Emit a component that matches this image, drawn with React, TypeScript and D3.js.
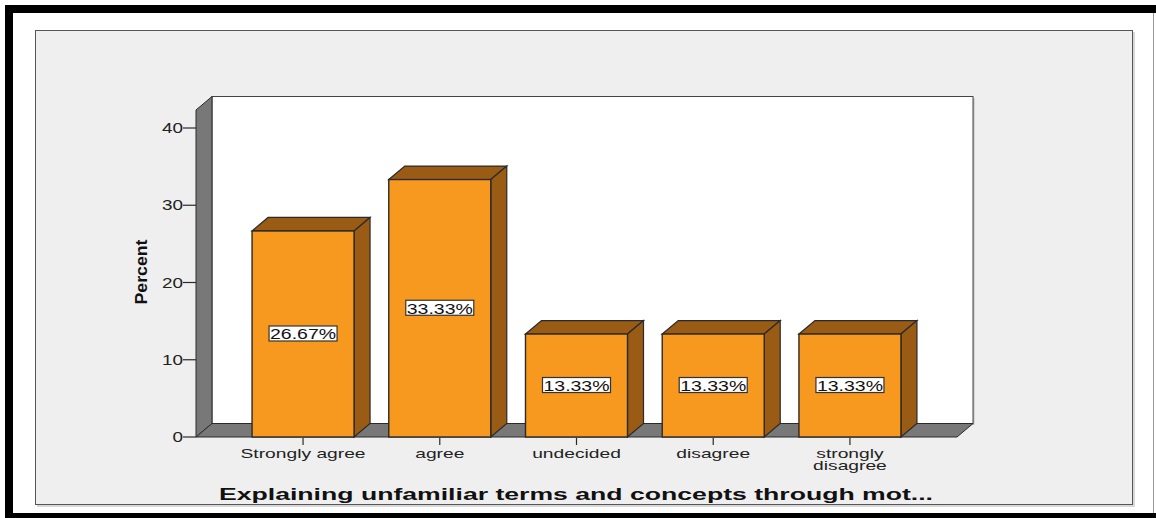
import React from "react";
import * as d3 from "d3";

const categories = ["Strongly agree", "agree", "undecided", "disagree", "strongly\ndisagree"];
const percents = [26.67, 33.33, 13.33, 13.33, 13.33];
const yTicks = [0, 10, 20, 30, 40];
const xTitle = "Explaining unfamiliar terms and concepts through mot...";
const yTitle = "Percent";

const W = 1156;
const H = 518;
const FRONT_LEFT = 196;
const FRONT_RIGHT = 957;
const FLOOR_Y = 437;
const WALL_TOP_FRONT = 110;
const DX = 16;
const DY = 13.5;
const FONT = "'Liberation Sans', Arial, sans-serif";
const ORANGE = "#F7981F";
const BROWN = "#9A5B14";
const WALL = "#787878";
const EDGE = "#2a2a2a";
const STRETCH = 1.48;

export default function App() {
  const y = d3.scaleLinear().domain([0, 40]).range([FLOOR_Y, 128]);
  const x = d3
    .scaleBand<string>()
    .domain(categories)
    .range([FRONT_LEFT, FRONT_RIGHT])
    .paddingInner(0.254)
    .paddingOuter(0.41);
  const bw = x.bandwidth();
  const pts = (a: [number, number][]) => a.map((p) => p.join(",")).join(" ");

  return (
    <svg
      width={W}
      height={H}
      viewBox={`0 0 ${W} ${H}`}
      style={{ position: "absolute", left: 0, top: 0, background: "#fff" }}
    >
      {/* outer frame */}
      <rect x={5} y={5} width={W - 5} height={8} fill="#000" />
      <rect x={5} y={5} width={8} height={H - 5} fill="#000" />
      <rect x={5} y={513} width={W - 5} height={5} fill="#000" />
      <line x1={1153.5} y1={13} x2={1153.5} y2={513} stroke="#999" strokeWidth={1} />

      {/* panel */}
      <rect x={37} y={32} width={1098} height={475} fill="#d8d8d8" />
      <rect x={35.5} y={30.5} width={1097} height={474} fill="#efefef" stroke="#555" strokeWidth={1} />

      {/* back wall */}
      <rect
        x={FRONT_LEFT + DX + 1.5}
        y={WALL_TOP_FRONT - DY + 1.5}
        width={FRONT_RIGHT - FRONT_LEFT}
        height={FLOOR_Y - WALL_TOP_FRONT}
        fill="#bdbdbd"
      />
      <rect
        x={FRONT_LEFT + DX}
        y={WALL_TOP_FRONT - DY}
        width={FRONT_RIGHT - FRONT_LEFT}
        height={FLOOR_Y - WALL_TOP_FRONT}
        fill="#fff"
        stroke="#444"
        strokeWidth={1}
      />
      {/* left wall */}
      <polygon
        points={pts([
          [FRONT_LEFT, FLOOR_Y],
          [FRONT_LEFT + DX, FLOOR_Y - DY],
          [FRONT_LEFT + DX, WALL_TOP_FRONT - DY],
          [FRONT_LEFT, WALL_TOP_FRONT],
        ])}
        fill={WALL}
        stroke={EDGE}
        strokeWidth={1}
      />
      {/* floor */}
      <polygon
        points={pts([
          [FRONT_LEFT, FLOOR_Y],
          [FRONT_RIGHT, FLOOR_Y],
          [FRONT_RIGHT + DX, FLOOR_Y - DY],
          [FRONT_LEFT + DX, FLOOR_Y - DY],
        ])}
        fill={WALL}
        stroke={EDGE}
        strokeWidth={1}
      />

      {/* y axis ticks */}
      {yTicks.map((t) => (
        <g key={t}>
          <line x1={183} x2={FRONT_LEFT} y1={y(t)} y2={y(t)} stroke={EDGE} strokeWidth={1.2} />
          <text
            transform={`translate(183,${y(t)}) scale(1.35,1)`}
            dy="0.36em"
            textAnchor="end"
            fontFamily={FONT}
            fontSize={14}
            fill="#222"
          >
            {t}
          </text>
        </g>
      ))}

      {/* bars */}
      {categories.map((c, i) => {
        const x0 = x(c)!;
        const yv = y(percents[i]);
        return (
          <g key={c}>
            <polygon
              points={pts([
                [x0, yv],
                [x0 + DX, yv - DY],
                [x0 + bw + DX, yv - DY],
                [x0 + bw, yv],
              ])}
              fill={BROWN}
              stroke={EDGE}
              strokeWidth={1.2}
            />
            <polygon
              points={pts([
                [x0 + bw, yv],
                [x0 + bw + DX, yv - DY],
                [x0 + bw + DX, FLOOR_Y - DY],
                [x0 + bw, FLOOR_Y],
              ])}
              fill={BROWN}
              stroke={EDGE}
              strokeWidth={1.2}
            />
            <rect x={x0} y={yv} width={bw} height={FLOOR_Y - yv} fill={ORANGE} stroke={EDGE} strokeWidth={1.4} />
            {/* value label */}
            <rect
              x={x0 + bw / 2 - 34}
              y={y(percents[i] / 2) - 8}
              width={68}
              height={15}
              fill="#fff"
              stroke="#333"
              strokeWidth={1.2}
            />
            <text
              transform={`translate(${x0 + bw / 2},${y(percents[i] / 2)}) scale(1.3,1)`}
              dy="0.36em"
              textAnchor="middle"
              fontFamily={FONT}
              fontSize={15}
              fill="#111"
            >
              {percents[i].toFixed(2) + "%"}
            </text>
          </g>
        );
      })}

      {/* x ticks & labels */}
      {categories.map((c) => {
        const cx = x(c)! + bw / 2;
        const lines = c.split("\n");
        return (
          <g key={c}>
            <line x1={cx} x2={cx} y1={FLOOR_Y + 1} y2={FLOOR_Y + 8} stroke={EDGE} strokeWidth={1.2} />
            {lines.map((ln, j) => (
              <text
                key={j}
                transform={`translate(${cx},${458 + j * 12}) scale(${STRETCH},1)`}
                textAnchor="middle"
                fontFamily={FONT}
                fontSize={13}
                fill="#222"
              >
                {ln}
              </text>
            ))}
          </g>
        );
      })}

      {/* axis titles */}
      <text
        x={576}
        y={500}
        textAnchor="middle"
        fontFamily={FONT}
        fontSize={16.5}
        fontWeight="bold"
        textLength={714}
        lengthAdjust="spacingAndGlyphs"
        fill="#111"
      >
        {xTitle}
      </text>
      <text
        transform="translate(147,272) rotate(-90)"
        textAnchor="middle"
        fontFamily={FONT}
        fontSize={16.5}
        fontWeight="bold"
        textLength={65}
        lengthAdjust="spacingAndGlyphs"
        fill="#111"
      >
        {yTitle}
      </text>
    </svg>
  );
}
